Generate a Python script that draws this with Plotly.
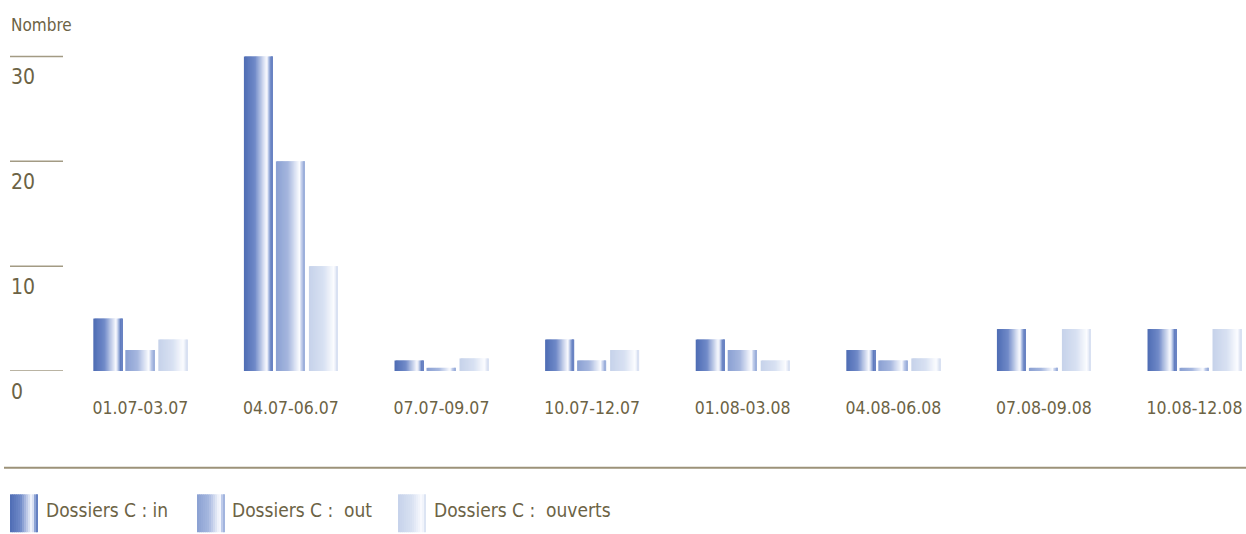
import plotly.graph_objects as go

categories = ["01.07-03.07", "04.07-06.07", "07.07-09.07", "10.07-12.07",
              "01.08-03.08", "04.08-06.08", "07.08-09.08", "10.08-12.08"]
series_names = ["Dossiers C : in", "Dossiers C :  out", "Dossiers C :  ouverts"]
vals_in = [5, 30, 1, 3, 3, 2, 4, 4]
vals_out = [2, 20, 0.3, 1, 2, 1, 0.3, 0.3]
vals_ouverts = [3, 10, 1.2, 2, 1, 1.2, 4, 4]
y_ticks = [0, 10, 20, 30]
y_label = "Nombre"

FONT = "DejaVu Sans Condensed, Liberation Sans Narrow, sans-serif"
TXT = "#6c6345"
LINE = "#a39b84"

# gradient stops per series (position across bar width, rgb)
grads = [
    [(0.0, (78, 108, 180)), (0.38, (112, 138, 200)), (0.74, (236, 240, 250)),
     (0.79, (252, 252, 255)), (0.87, (165, 184, 224)), (0.94, (95, 122, 190)), (1.0, (110, 136, 198))],
    [(0.0, (138, 160, 210)), (0.42, (166, 183, 223)), (0.76, (240, 243, 251)),
     (0.81, (252, 252, 255)), (0.9, (185, 199, 232)), (1.0, (150, 170, 216))],
    [(0.0, (198, 210, 234)), (0.5, (216, 225, 242)), (0.8, (246, 248, 253)),
     (0.86, (252, 252, 255)), (0.94, (226, 232, 245)), (1.0, (212, 221, 240))],
]


def grad_color(stops, t):
    for (t0, c0), (t1, c1) in zip(stops[:-1], stops[1:]):
        if t <= t1:
            f = 0 if t1 == t0 else (t - t0) / (t1 - t0)
            c = [round(a + (b - a) * f) for a, b in zip(c0, c1)]
            return "rgb(%d,%d,%d)" % tuple(c)
    return "rgb(%d,%d,%d)" % stops[-1][1]


# layout geometry (pixels)
W_FIG, H_FIG = 1246, 534
L, R = 65, 0
T, B = 46, 162.5
PW = W_FIG - L - R
PH = H_FIG - T - B
STEP = 150.6  # px per category
x_range = [-0.5, PW / STEP - 0.5]
y_range = [0, 31]


def px_x(px):
    return (px - L) / PW


def px_y(py):
    return (H_FIG - B - py) / PH


bar_w = 29 / STEP
bar_offsets = [-0.312, -0.0996, 0.1195]
N = 24

fig = go.Figure()
series_vals = [vals_in, vals_out, vals_ouverts]
for s, vals in enumerate(series_vals):
    sw = bar_w / N
    for k in range(N):
        t = (k + 0.5) / N
        fig.add_trace(go.Bar(
            x=categories, y=vals,
            width=sw * 2.0 if k < N - 1 else sw,
            offset=bar_offsets[s] + k * sw,
            marker=dict(color=grad_color(grads[s], t), line=dict(width=0)),
            name=series_names[s], showlegend=False, hoverinfo="skip",
        ))

shapes = []
annotations = []
# short gridlines + y labels
for v in y_ticks:
    shapes.append(dict(type="line", xref="paper", yref="y",
                       x0=px_x(10), x1=px_x(63), y0=v, y1=v,
                       line=dict(color=LINE, width=1.5)))
    annotations.append(dict(text=str(v), xref="paper", yref="y", x=px_x(9), y=v,
                            xanchor="left", yanchor="middle", yshift=-21, showarrow=False,
                            font=dict(family=FONT, size=21, color=TXT)))
annotations.append(dict(text=y_label, xref="paper", yref="paper", x=px_x(9), y=px_y(25),
                        xanchor="left", yanchor="middle", showarrow=False,
                        font=dict(family=FONT, size=17, color=TXT)))
# separator line
shapes.append(dict(type="line", xref="paper", yref="paper",
                   x0=px_x(4), x1=px_x(1246), y0=px_y(468.5), y1=px_y(468.5),
                   line=dict(color="#9c9279", width=2)))
# custom legend with gradient icons
leg_icon_x = [10, 197, 398]
leg_text_x = [44, 230, 432]
NL = 14
for s in range(3):
    for k in range(NL):
        t = (k + 0.5) / NL
        x0 = leg_icon_x[s] + 28 * k / NL
        x1 = leg_icon_x[s] + 28 * (k + 1) / NL + (0.6 if k < NL - 1 else 0)
        shapes.append(dict(type="rect", xref="paper", yref="paper",
                           x0=px_x(x0), x1=px_x(x1), y0=px_y(533), y1=px_y(495),
                           fillcolor=grad_color(grads[s], t), line=dict(width=0),
                           layer="above"))
    annotations.append(dict(text=series_names[s].replace("  ", "&nbsp; "), xref="paper", yref="paper",
                            x=px_x(leg_text_x[s]), y=px_y(511), xanchor="left", yanchor="middle",
                            showarrow=False, font=dict(family=FONT, size=19, color=TXT)))

fig.update_layout(
    width=W_FIG, height=H_FIG,
    margin=dict(l=L, r=R, t=T, b=B, autoexpand=False),
    paper_bgcolor="white", plot_bgcolor="white",
    barmode="overlay",
    showlegend=False,
    xaxis=dict(range=x_range, showgrid=False, zeroline=False, showline=False,
               ticks="", ticklabelstandoff=24,
               tickfont=dict(family=FONT, size=17.5, color=TXT), fixedrange=True),
    yaxis=dict(range=y_range, showgrid=False, zeroline=False, showline=False,
               showticklabels=False, ticks="", fixedrange=True),
    shapes=shapes, annotations=annotations,
)

fig.write_html("out.html", config={"displayModeBar": False},
               post_script="document.body.style.margin='0';document.body.style.overflow='hidden';")
